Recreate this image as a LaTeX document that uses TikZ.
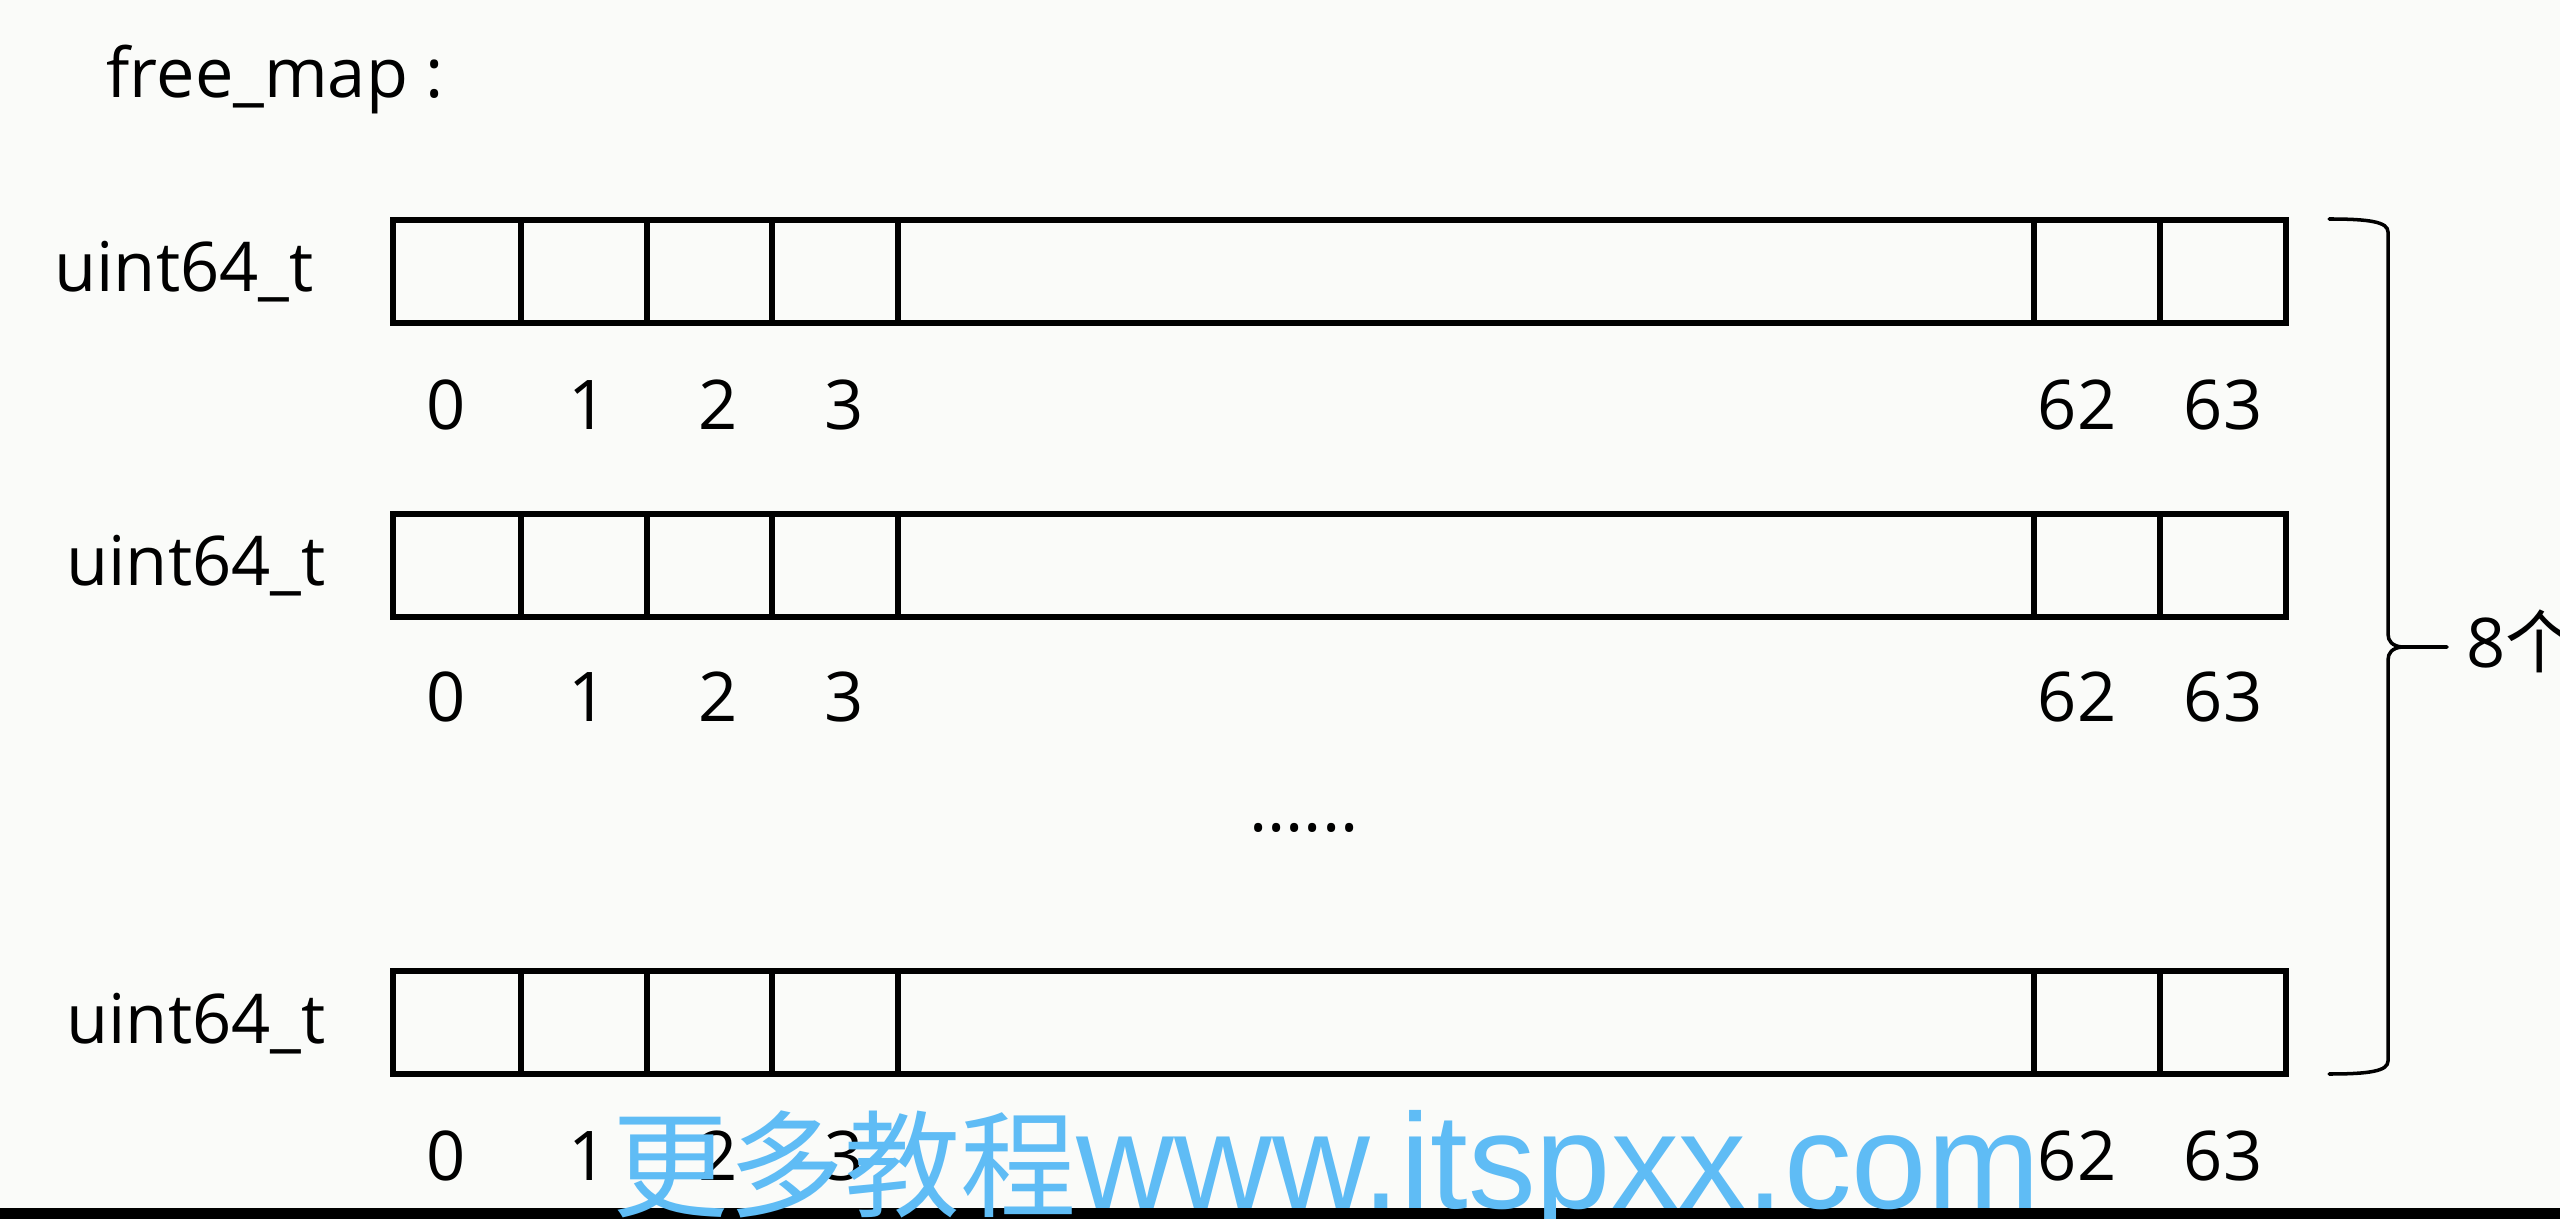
\documentclass[tikz,border=0pt]{standalone}
\usepackage{fontspec}
\setmainfont{Open Sans}
\newfontfamily\cjk{Noto Sans CJK SC}
\newfontfamily\wmfont{Liberation Sans}
\definecolor{bgc}{RGB}{250,251,249}
\definecolor{wmblue}{RGB}{95,188,245}
\begin{document}
\begin{tikzpicture}[x=0.01cm,y=-0.01cm,
  lbl/.style={font=\fontsize{19.5}{20}\selectfont, anchor=base, inner sep=0pt},
  cellline/.style={line width=1.5pt},
  braceline/.style={line width=1pt, line cap=round, line join=round},
  wmstyle/.style={anchor=base west, inner sep=0pt}]
\fill[bgc] (0,0) rectangle (2560,1219);
\useasboundingbox (0,0) rectangle (2560,1219);
\node[lbl, anchor=base west] (title) at (106,98) {free\_map :};
\foreach \r/\t/\b/\ux in {1/220/430/184, 2/514/722/196, 3/971/1180/196}{
  \draw[cellline] (393,\t) rectangle (2286,\t+103);
  \foreach \vx in {521,647,772,898,2034,2160}{
    \draw[cellline] (\vx,\t) -- (\vx,\t+103);
  }
  \node[lbl] (u\r) at (\ux,\t+72) {uint64\_t};
  \node[lbl] (a\r) at (446,\b) {0};
  \node[lbl] (b\r) at (588,\b) {1};
  \node[lbl] (c\r) at (718,\b) {2};
  \node[lbl] (d\r) at (844,\b) {3};
  \node[lbl] (e\r) at (2077,\b) {62};
  \node[lbl] (f\r) at (2223,\b) {63};
}
\node[lbl] (dots) at (1304,831) {......};
% brace
\coordinate (bt) at (2329,219);
\coordinate (bb) at (2329,1074);
\coordinate (tip) at (2447,647);
\draw[braceline] (bt) .. controls (2370,219) and (2388,222) .. (2388,232)
  -- (2388,634) .. controls (2388,641) and (2392,646) .. (2402,647) -- (tip);
\draw[braceline] (bb) .. controls (2370,1074) and (2388,1071) .. (2388,1061)
  -- (2388,660) .. controls (2388,653) and (2392,648) .. (2402,647);
\node[lbl, anchor=base west] (eight) at (2466,668) {8{\cjk 个}};
% bottom bar and watermark
\fill[black] (0,1208) rectangle (2560,1219);
\node[wmstyle, text=wmblue] (wm) at (612,1208)
  {{\cjk\fontsize{33}{33}\selectfont 更多教程}{\wmfont\fontsize{38.5}{38.5}\selectfont www.itspxx.com}};
\end{tikzpicture}
\end{document}
